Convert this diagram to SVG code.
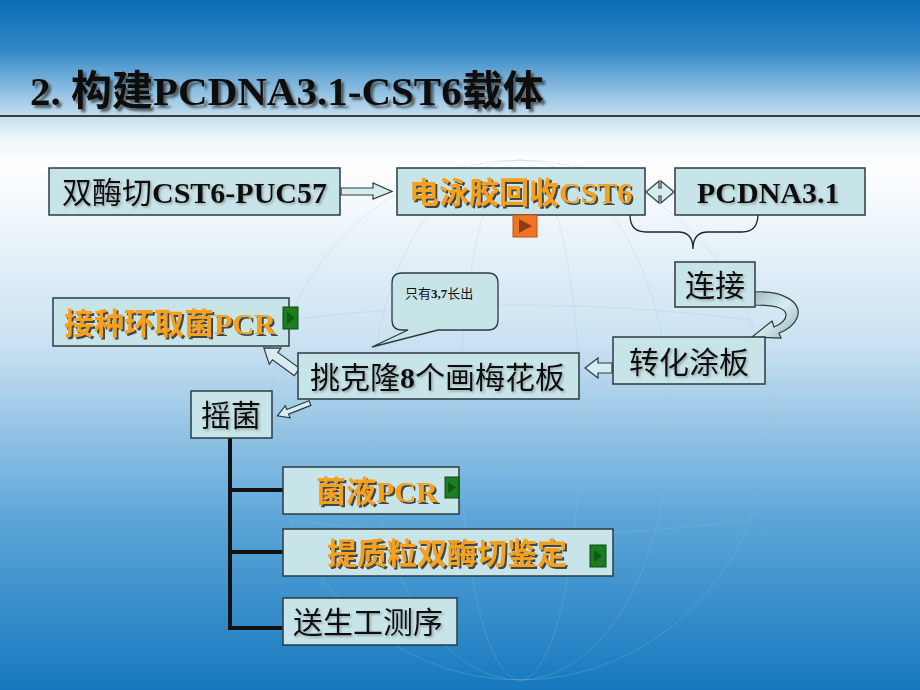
<svg xmlns="http://www.w3.org/2000/svg" width="920" height="690" viewBox="0 0 920 690">
<defs>
  <linearGradient id="bg" x1="0" y1="0" x2="0" y2="1">
    <stop offset="0" stop-color="#0b6cb6"/>
    <stop offset="0.07" stop-color="#2f86c6"/>
    <stop offset="0.15" stop-color="#a9cfe8"/>
    <stop offset="0.2" stop-color="#eef6fb"/>
    <stop offset="0.24" stop-color="#ffffff"/>
    <stop offset="0.5" stop-color="#c9e1f1"/>
    <stop offset="0.75" stop-color="#5da6d8"/>
    <stop offset="1" stop-color="#1678be"/>
  </linearGradient>
  <linearGradient id="curveFill" x1="0" y1="0" x2="1" y2="1">
    <stop offset="0" stop-color="#9fb8c0"/>
    <stop offset="0.5" stop-color="#d8eef0"/>
    <stop offset="1" stop-color="#8fb0b8"/>
  </linearGradient>
  <filter id="shadow" x="-10%" y="-20%" width="120%" height="150%">
    <feDropShadow dx="2" dy="2" stdDeviation="0.6" flood-color="#2a2a2a" flood-opacity="0.85"/>
  </filter>
  <filter id="kshadow" x="-10%" y="-20%" width="120%" height="150%">
    <feDropShadow dx="1.5" dy="1.5" stdDeviation="0.8" flood-color="#555" flood-opacity="0.45"/>
  </filter>
  <filter id="tshadow" x="-10%" y="-20%" width="120%" height="150%">
    <feDropShadow dx="3" dy="3" stdDeviation="1.2" flood-color="#333" flood-opacity="0.7"/>
  </filter>
  <style>
    .box { fill: #c7e4e8; stroke: #2b3b42; stroke-width: 1.5; }
    .t { font-family: "Liberation Serif", "Noto Sans CJK SC", serif; font-size: 30px; fill: #111; }
    .b { font-weight: bold; }
    .o { fill: #f6a01c; font-weight: bold; filter: url(#shadow); }
    .k { filter: url(#kshadow); }
    .harrow { fill: #d6ecef; stroke: #2b3b42; stroke-width: 1.2; }
    .line { stroke: #111; stroke-width: 4; fill: none; }
    .gbtn { fill: #1b7d20; stroke: #0d4a10; stroke-width: 1; }
    .gtri { fill: #0f5a14; }
    .globe { fill: none; stroke: #9cbfd8; stroke-width: 1; opacity: 0.25; }
  </style>
</defs>

<rect x="0" y="0" width="920" height="690" fill="url(#bg)"/>
<g id="watermark">
  <ellipse class="globe" cx="520" cy="420" rx="250" ry="260"/>
  <ellipse class="globe" cx="520" cy="420" rx="150" ry="260"/>
  <ellipse class="globe" cx="520" cy="420" rx="60" ry="260"/>
  <path class="globe" d="M270,420 L770,420 M290,320 Q520,290 750,320 M290,520 Q520,550 750,520"/>
</g>

<g id="title">
  <text x="30" y="105" font-family="Liberation Serif, 'Noto Sans CJK SC', serif" font-size="41" font-weight="bold" fill="#111" filter="url(#tshadow)">2. 构建PCDNA3.1-CST6载体</text>
  <line x1="0" y1="116" x2="920" y2="116" stroke="#3a3a3a" stroke-width="2"/>
</g>

<g id="connectors">
  <polygon class="harrow" points="341,188 373,188 373,183 392,191.5 373,199 373,195 341,195"/>
  <polygon class="harrow" points="646,192 659,181 659,188 661,188 661,181 674,192 661,203 661,196 659,196 659,203"/>
  <path d="M630,215 Q630,232 646,232 L678,232 Q693,232 693,249 Q693,232 708,232 L742,232 Q758,232 758,214" fill="none" stroke="#222" stroke-width="1.3"/>
  <path fill="url(#curveFill)" stroke="#2b3b42" stroke-width="1.2" d="M754,292 C784,290 803,303 797,318 C794,325 787,330 779,333 L781,338 L752,337 L772,321 L774,327 C781,324 786,320 786,315 C786,309 776,305 754,305 Z"/>
  <polygon class="harrow" points="612,363 598,363 598,358 585,368 598,378 598,373 612,373"/>
  <polygon class="harrow" transform="translate(297,372) rotate(-144)" points="0,-4.5 27,-4.5 27,-10 41,0 27,10 27,4.5 0,4.5"/>
  <polygon class="harrow" transform="translate(310,403) rotate(158.5)" points="0,-2.5 24,-2.5 24,-6.5 35,0 24,6.5 24,2.5 0,2.5"/>
  <path class="line" d="M230,438 L230,628 L284,628 M230,490 L284,490 M230,552 L284,552"/>
</g>

<g id="n-digest">
  <rect class="box" x="49" y="168" width="291" height="47"/>
  <text class="t k" x="62" y="203">双酶切<tspan class="b">CST6-PUC57</tspan></text>
</g>

<g id="n-gel">
  <rect class="box" x="397" y="168" width="248" height="47"/>
  <text class="t o" x="409" y="203">电泳胶回收CST6</text>
  <rect x="513" y="215" width="24" height="22" fill="#f07422" stroke="#c0501a" stroke-width="1"/>
  <polygon points="519,219 532,226 519,233" fill="#8a3c14"/>
</g>

<g id="n-pcdna">
  <rect class="box" x="675" y="168" width="190" height="47"/>
  <text class="t b k" x="697" y="203">PCDNA3.1</text>
</g>

<g id="n-ligate">
  <rect class="box" x="675" y="262" width="80" height="45"/>
  <text class="t k" x="685" y="296">连接</text>
</g>

<g id="n-transform">
  <rect class="box" x="613" y="337" width="152" height="47"/>
  <text class="t k" x="629" y="373">转化涂板</text>
</g>

<g id="n-pick">
  <rect class="box" x="298" y="353" width="281" height="46"/>
  <text class="t k" x="310" y="388">挑克隆<tspan class="b">8</tspan>个画梅花板</text>
</g>

<g id="n-note">
  <path d="M402,273 L488,273 Q498,273 498,283 L498,320 Q498,330 488,330 L438,330 L372,347 L408,330 L402,330 Q392,330 392,320 L392,283 Q392,273 402,273 Z" fill="#c7e4e8" stroke="#2b3b42" stroke-width="1.3"/>
  <text x="405" y="298" font-family="Liberation Serif, 'Noto Sans CJK SC', serif" font-size="13" fill="#111">只有<tspan font-weight="bold">3,7</tspan>长出</text>
</g>

<g id="n-colonypcr">
  <rect class="box" x="53" y="298" width="236" height="48"/>
  <text class="t o" x="64" y="334">接种环取菌PCR</text>
  <rect class="gbtn" x="283" y="307" width="15" height="22"/>
  <polygon class="gtri" points="287,312 295,318 287,324"/>
</g>

<g id="n-shake">
  <rect class="box" x="191" y="391" width="81" height="47"/>
  <text class="t k" x="201" y="426">摇菌</text>
</g>

<g id="n-brothpcr">
  <rect class="box" x="283" y="467" width="176" height="47"/>
  <text class="t o" x="316" y="502">菌液PCR</text>
  <rect class="gbtn" x="445" y="477" width="14" height="21"/>
  <polygon class="gtri" points="448,482 456,487.5 448,493"/>
</g>

<g id="n-plasmid">
  <rect class="box" x="283" y="529" width="330" height="47"/>
  <text class="t o" x="327" y="564">提质粒双酶切鉴定</text>
  <rect class="gbtn" x="590" y="545" width="16" height="22"/>
  <polygon class="gtri" points="594,550 602,556 594,562"/>
</g>

<g id="n-seq">
  <rect class="box" x="283" y="598" width="174" height="47"/>
  <text class="t k" x="293" y="633">送生工测序</text>
</g>
</svg>
